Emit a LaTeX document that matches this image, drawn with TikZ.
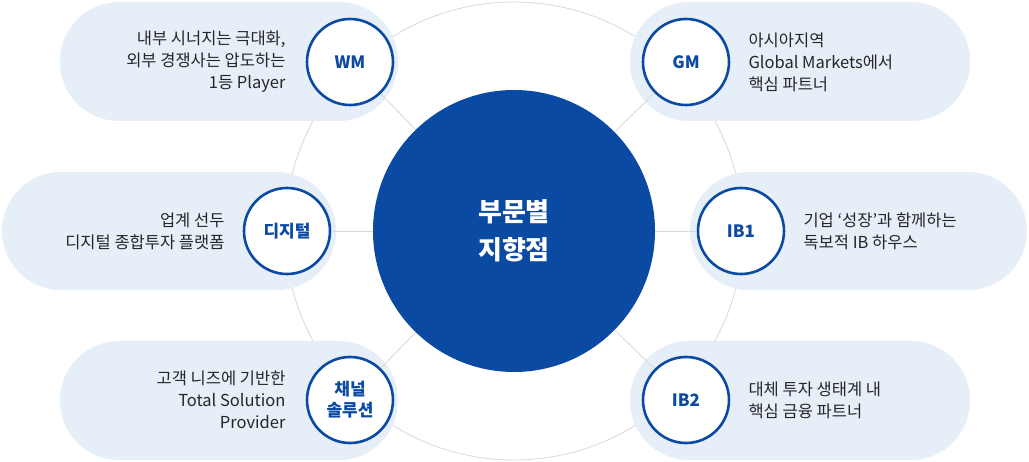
\documentclass[tikz,border=0pt]{standalone}
\usepackage{fontspec}
\setmainfont{Noto Sans CJK KR}
\definecolor{dblue}{HTML}{0B4AA2}
\definecolor{pill}{HTML}{E6EEF8}
\definecolor{gline}{HTML}{D8D8D8}
\begin{document}
\begin{tikzpicture}[x=1pt,y=-1pt,
  pillbox/.style={fill=pill,rounded corners=59pt},
  small/.style={circle,draw=dblue,line width=2.6pt,fill=white,minimum size=86pt,inner sep=0pt,font=\fontsize{17}{21}\selectfont\bfseries,text=dblue,align=center},
  ltext/.style={anchor=east,align=right,font=\fontsize{16.5}{22}\selectfont,text=black!85},
  rtext/.style={anchor=west,align=left,font=\fontsize{16.5}{22}\selectfont,text=black!85},
  spoke/.style={draw=gline,line width=0.8pt}]
\useasboundingbox (0,0) rectangle (1029,462);
\coordinate (c0) at (514,231);
\draw[gline,line width=0.8pt] (c0) circle (229);
\fill[pill,rounded corners=59pt] (60,2) rectangle (398,121);
\fill[pill,rounded corners=59pt] (630,2) rectangle (970,121);
\fill[pill,rounded corners=59pt] (2,172) rectangle (336,290);
\fill[pill,rounded corners=59pt] (690,172) rectangle (1027,290);
\fill[pill,rounded corners=59pt] (60,341) rectangle (398,460);
\fill[pill,rounded corners=59pt] (630,341) rectangle (970,460);
\node[small] (wm) at (350,62) {WM};
\node[small] (gm) at (686,62) {GM};
\node[small] (dg) at (287,231) {디지털};
\node[small] (ib1) at (741,231) {IB1};
\node[small] (ch) at (350,400) {채널\\솔루션};
\node[small] (ib2) at (686,400) {IB2};
\node[circle,fill=dblue,minimum size=282pt,inner sep=0pt,text=white,align=center,font=\fontsize{26}{38}\selectfont\bfseries] (c) at (c0) {부문별\\지향점};
\foreach \n in {wm,gm,dg,ib1,ch,ib2} \draw[spoke] (c) -- (\n);
\node[ltext] (t1) at (289,62) {내부 시너지는 극대화,\\외부 경쟁사는 압도하는\\1등 Player};
\node[ltext] (t3) at (228,231) {업계 선두\\디지털 종합투자 플랫폼};
\node[ltext] (t5) at (289,400) {고객 니즈에 기반한\\Total Solution\\Provider};
\node[rtext] (t2) at (745,62) {아시아지역\\Global Markets에서\\핵심 파트너};
\node[rtext] (t4) at (800,231) {기업 ‘성장’과 함께하는\\독보적 IB 하우스};
\node[rtext] (t6) at (745,400) {대체 투자 생태계 내\\핵심 금융 파트너};
\end{tikzpicture}
\end{document}
